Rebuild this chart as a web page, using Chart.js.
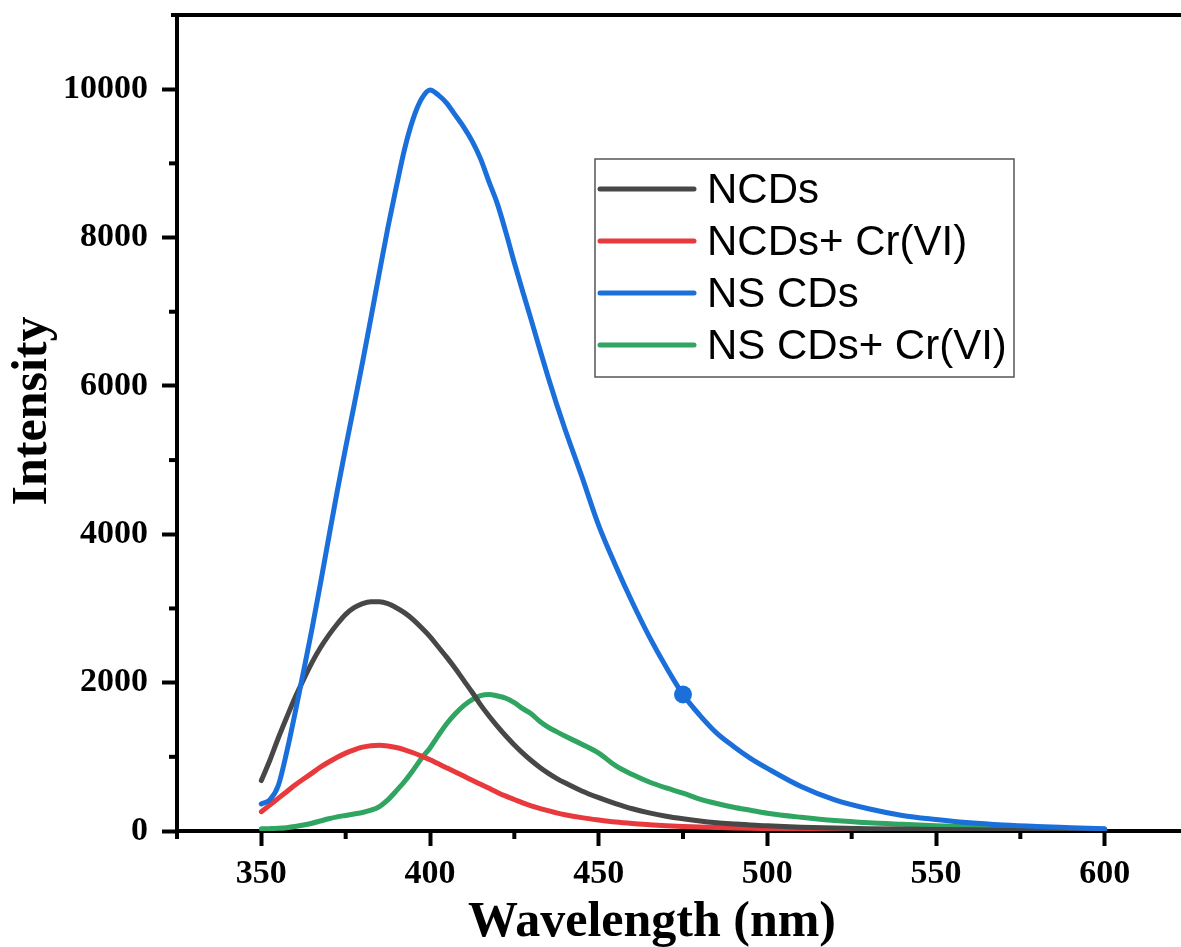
<!DOCTYPE html>
<html>
<head>
<meta charset="utf-8">
<script src="https://cdn.jsdelivr.net/npm/chart.js@4.4.1/dist/chart.umd.min.js"></script>
<style>
    html, body { margin: 0; padding: 0; background: #fff; overflow: hidden; }
    canvas { display: block; }
</style>
</head>
<body>
<canvas id="pl-chart" width="1200" height="947"></canvas>
<script>
// ---------------------------------------------------------------
// Data
// ---------------------------------------------------------------
const wavelength = [
    350, 352.5, 355, 357.5, 360, 362.5, 365, 367.5, 370, 372.5,
    375, 377.5, 380, 382.5, 385, 387.5, 390, 392.5, 395, 397.5,
    400, 402.5, 405, 407.5, 410, 412.5, 415, 417.5, 420, 422.5,
    425, 427.5, 430, 432.5, 435, 437.5, 440, 445, 450, 455,
    460, 465, 470, 475, 480, 485, 490, 495, 500, 510,
    520, 530, 540, 550, 560, 570, 580, 590, 600
];

const ncds = [
    680, 950, 1250, 1530, 1800, 2040, 2270, 2470, 2640, 2790,
    2920, 3010, 3065, 3090, 3090, 3065, 3010, 2940, 2850, 2740,
    2620, 2480, 2340, 2190, 2030, 1870, 1700, 1550, 1410, 1280,
    1160, 1050, 950, 860, 780, 710, 650, 540, 450, 370,
    300, 245, 200, 165, 135, 112, 95, 80, 70, 52,
    40, 32, 26, 21, 17, 14, 11, 9, 7
];

const ncdsCr = [
    260, 350, 440, 530, 620, 700, 780, 860, 930, 995,
    1050, 1095, 1130, 1150, 1155, 1145, 1125, 1095, 1055, 1010,
    960, 905, 850, 795, 740, 685, 630, 575, 520, 470,
    425, 380, 340, 305, 275, 245, 220, 180, 148, 120,
    100, 85, 72, 62, 54, 47, 41, 36, 32, 25,
    20, 16, 13, 11, 9, 7, 6, 5, 4
];

const nsCds = [
    365, 420, 610, 1060, 1590, 2150, 2720, 3330, 3960, 4580,
    5170, 5740, 6320, 6920, 7530, 8130, 8680, 9200, 9600, 9870,
    9990, 9920, 9810, 9650, 9490, 9300, 9060, 8750, 8450, 8070,
    7660, 7270, 6890, 6500, 6120, 5760, 5420, 4780, 4120, 3580,
    3080, 2620, 2210, 1840, 1560, 1320, 1140, 980, 845, 600,
    420, 300, 210, 155, 110, 80, 60, 45, 30
];

const nsCdsCr = [
    30, 32, 36, 45, 60, 80, 105, 135, 165, 190,
    210, 230, 250, 280, 330, 420, 540, 670, 820, 980,
    1120, 1290, 1450, 1580, 1690, 1770, 1825, 1840, 1820, 1790,
    1730, 1650, 1580, 1480, 1400, 1340, 1280, 1170, 1050, 880,
    760, 660, 580, 510, 430, 370, 320, 280, 240, 185,
    140, 110, 90, 72, 58, 47, 40, 33, 25
];

const seriesLabels = ['NCDs', 'NCDs+ Cr(VI)', 'NS CDs', 'NS CDs+ Cr(VI)'];
const seriesColors = ['#474747', '#E8393C', '#1A6FDB', '#2FA561'];

const xMajorTicks = [350, 400, 450, 500, 550, 600];
const xMinorTicks = [325, 375, 425, 475, 525, 575, 625];
const yMajorTicks = [0, 2000, 4000, 6000, 8000, 10000];
const yMinorTicks = [1000, 3000, 5000, 7000, 9000];

const markedWavelength = 475;   // single filled dot on the NS CDs curve

// ---------------------------------------------------------------
// Styles
// ---------------------------------------------------------------
const SERIF = '"Liberation Serif", "Times New Roman", serif';
const SANS = '"Liberation Sans", Arial, sans-serif';

function toPoints(values) {
    return wavelength.map((w, i) => ({ x: w, y: values[i] }));
}

// frame, minor ticks, axis titles and the boxed legend
const decorPlugin = {
    id: 'decor',
    afterDraw(chart) {
        const ctx = chart.ctx;
        const area = chart.chartArea;
        const xs = chart.scales.x;
        const ys = chart.scales.y;

        ctx.save();
        ctx.strokeStyle = '#000';
        ctx.lineWidth = 4;

        // top frame line
        ctx.beginPath();
        ctx.moveTo(area.left - 6, area.top);
        ctx.lineTo(chart.width, area.top);
        ctx.stroke();

        // minor ticks
        xMinorTicks.forEach(v => {
            const px = xs.getPixelForValue(v);
            ctx.beginPath();
            ctx.moveTo(px, area.bottom);
            ctx.lineTo(px, area.bottom + 8);
            ctx.stroke();
        });
        yMinorTicks.forEach(v => {
            const py = ys.getPixelForValue(v);
            ctx.beginPath();
            ctx.moveTo(area.left, py);
            ctx.lineTo(area.left - 8, py);
            ctx.stroke();
        });

        // axis titles
        ctx.fillStyle = '#000';
        ctx.font = 'bold 50px ' + SERIF;
        ctx.textAlign = 'center';
        ctx.textBaseline = 'alphabetic';
        ctx.fillText('Wavelength (nm)', 652, 936);

        ctx.save();
        ctx.translate(46, 411);
        ctx.rotate(-Math.PI / 2);
        ctx.fillText('Intensity', 0, 0);
        ctx.restore();

        // legend
        const box = { left: 595, top: 159, width: 419, height: 218 };
        ctx.lineWidth = 1.5;
        ctx.strokeStyle = '#555';
        ctx.strokeRect(box.left, box.top, box.width, box.height);

        ctx.font = '42px ' + SANS;
        ctx.textAlign = 'left';
        ctx.textBaseline = 'middle';
        ctx.lineCap = 'round';
        seriesLabels.forEach((label, i) => {
            const rowY = 189 + i * 52;
            ctx.strokeStyle = seriesColors[i];
            ctx.lineWidth = 5;
            ctx.beginPath();
            ctx.moveTo(600, rowY);
            ctx.lineTo(694, rowY);
            ctx.stroke();
            ctx.fillStyle = '#000';
            ctx.fillText(label, 707, rowY + 2);
        });

        ctx.restore();
    }
};

const seriesValues = [ncds, ncdsCr, nsCds, nsCdsCr];

const datasets = seriesValues.map((values, i) => ({
    label: seriesLabels[i],
    data: toPoints(values),
    borderColor: seriesColors[i],
    backgroundColor: seriesColors[i],
    borderWidth: 5,
    borderCapStyle: 'round',
    borderJoinStyle: 'round',
    cubicInterpolationMode: 'monotone',
    fill: false,
    order: i === 2 ? 0 : i + 1,
    pointRadius: i === 2
        ? (c => (wavelength[c.dataIndex] === markedWavelength ? 9 : 0))
        : 0,
    pointHoverRadius: 0,
    pointBorderWidth: 0
}));

const axisFont = { family: SERIF, size: 34, weight: 'bold' };
const plainNumber = v => String(v);

new Chart(document.getElementById('pl-chart'), {
    type: 'line',
    data: { datasets: datasets },
    plugins: [decorPlugin],
    options: {
        responsive: false,
        animation: false,
        events: [],
        layout: { padding: { left: 0, top: 15, right: 11, bottom: 0 } },
        plugins: {
            legend: { display: false },
            tooltip: { enabled: false }
        },
        scales: {
            x: {
                type: 'linear',
                min: 325,
                max: 625,
                afterFit: s => {
                    s.height = 116;
                    s.paddingLeft = 0;
                    s.paddingRight = 0;
                },
                afterBuildTicks: s => { s.ticks = xMajorTicks.map(v => ({ value: v })); },
                grid: {
                    drawOnChartArea: false,
                    drawTicks: true,
                    tickLength: 15,
                    tickWidth: 4,
                    tickColor: '#000'
                },
                border: { display: true, width: 4, color: '#000' },
                ticks: {
                    color: '#000',
                    font: axisFont,
                    padding: 8,
                    maxRotation: 0,
                    autoSkip: false,
                    callback: plainNumber
                }
            },
            y: {
                min: 0,
                max: 11000,
                afterFit: s => {
                    s.width = 177;
                    s.paddingTop = 0;
                    s.paddingBottom = 0;
                },
                afterBuildTicks: s => { s.ticks = yMajorTicks.map(v => ({ value: v })); },
                grid: {
                    drawOnChartArea: false,
                    drawTicks: true,
                    tickLength: 15,
                    tickWidth: 4,
                    tickColor: '#000'
                },
                border: { display: true, width: 4, color: '#000' },
                ticks: {
                    color: '#000',
                    font: axisFont,
                    padding: 14,
                    autoSkip: false,
                    callback: plainNumber
                }
            }
        }
    }
});
</script>
</body>
</html>
